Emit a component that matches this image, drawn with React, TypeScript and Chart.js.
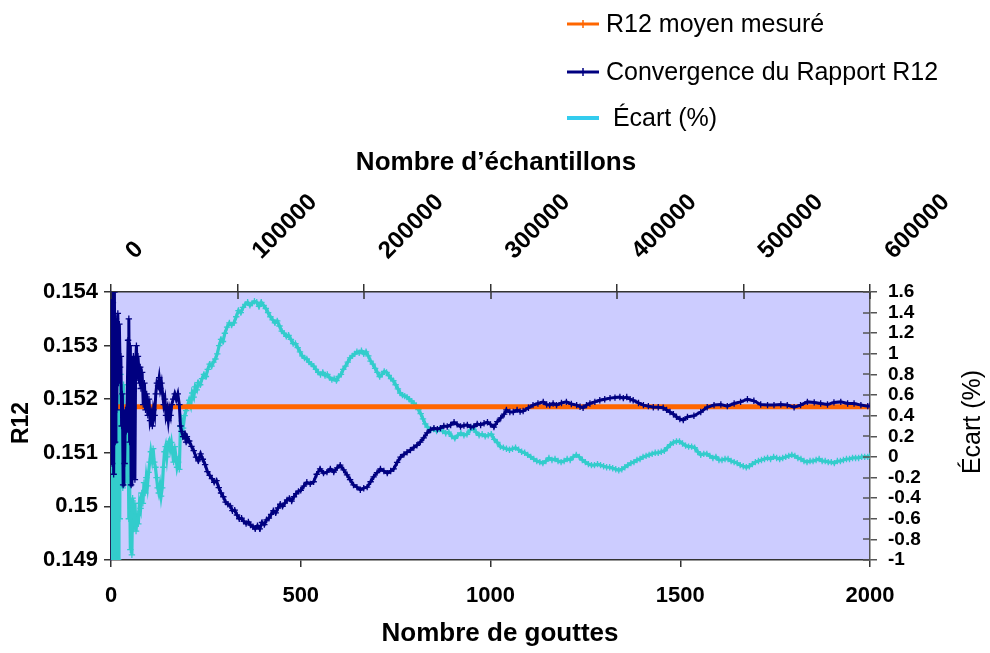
import React, { useEffect, useRef } from "react";
import { Chart, registerables } from "chart.js";

Chart.register(...registerables);

const FONT = "'Liberation Sans', Arial, Helvetica, sans-serif";

// Titles and legend labels
const titleTop = "Nombre d\u2019échantillons";
const titleBottom = "Nombre de gouttes";
const titleLeft = "R12";
const titleRight = "Écart (%)";
const legendLabels = ["R12 moyen mesuré", "Convergence du Rapport R12", " Écart (%)"];
const legendColors = ["#ff6600", "#000080", "#33ccee"];

// Axis ranges
const dropRange = [0, 2000];
const sampleRange = [0, 600000];
const r12Range = [0.149, 0.154];
const ecartRange = [-1, 1.6];

// Mean measured R12 (orange)
const meanDrops = [0, 2000];
const meanR12 = [0.15186, 0.15186];

// Convergence du Rapport R12 (navy)
const convDrops = [
  1, 3, 5, 7, 9, 11, 13, 15, 18, 20,
  22, 24, 26, 28, 30, 32, 34, 36, 38, 40,
  42, 45, 47, 49, 51, 53, 55, 57, 59, 61,
  63, 65, 67, 69, 71, 73, 75, 77, 79, 82,
  85, 88, 91, 94, 97, 100, 103, 106, 109, 112,
  115, 118, 121, 124, 127, 130, 133, 136, 139, 142,
  145, 148, 151, 154, 157, 160, 164, 168, 172, 176,
  180, 183, 186, 190, 194, 198,
  200, 206, 212, 218, 224, 230, 236, 242, 248, 254,
  260, 266, 272, 278, 284, 290, 296, 302, 308, 314,
  320, 326, 332, 338, 344, 350, 356, 362, 368, 374,
  380, 386, 392, 398, 404, 410, 416, 422, 428, 434,
  440, 446, 452, 458, 464, 470, 476, 482, 488, 494,
  500, 508, 516, 525, 534, 542, 551, 560, 569, 578,
  587, 596, 604, 613, 622, 630, 639, 648, 657, 666,
  675, 684, 692, 701, 710, 719, 728, 737, 745, 754,
  763, 772, 780, 789, 798, 806, 815, 824, 833, 842,
  851, 860, 868, 877, 886, 895, 904, 912, 921, 930,
  939, 948, 956, 965, 974, 983, 992, 1000, 1009, 1018,
  1027, 1036, 1042, 1051, 1060, 1070, 1078, 1086, 1100, 1112,
  1125, 1139, 1148, 1156, 1165, 1174, 1187, 1200, 1213, 1227,
  1236, 1244, 1253, 1262, 1275, 1288, 1301, 1315, 1328, 1341,
  1350, 1359, 1368, 1376, 1390, 1403, 1416, 1429, 1442, 1455,
  1464, 1473, 1482, 1490, 1499, 1508, 1519, 1536, 1554, 1571,
  1589, 1607, 1624, 1642, 1659, 1677, 1694, 1712, 1730, 1747,
  1765, 1782, 1800, 1817, 1835, 1853, 1870, 1888, 1905, 1923,
  1941, 1958, 1976, 1994, 2000,
];
const convR12 = [
  0.1560, 0.1508, 0.1538, 0.1506, 0.1540, 0.1512, 0.1535, 0.1518, 0.1536, 0.1523,
  0.1534, 0.1526, 0.1528, 0.1515, 0.1521, 0.1504, 0.1516, 0.1508, 0.1518, 0.1514,
  0.1517, 0.1531, 0.1535, 0.1512, 0.1530, 0.1504, 0.1527, 0.1516, 0.1528, 0.1522,
  0.1505, 0.1527, 0.1530, 0.1524, 0.1528, 0.1526, 0.1523, 0.1526, 0.1522, 0.1525,
  0.1519, 0.1523, 0.1518, 0.1521, 0.1517, 0.1520, 0.1516, 0.1517, 0.1515, 0.1518,
  0.1517, 0.1521, 0.1523, 0.15225, 0.1524, 0.1522, 0.1523, 0.1521, 0.1519, 0.1520,
  0.1517, 0.1518, 0.1516, 0.1518, 0.1517, 0.1519, 0.1520, 0.1521, 0.1520, 0.1521,
  0.1519, 0.1515, 0.1514, 0.1513, 0.15135, 0.1512,
  0.15130, 0.15122, 0.15112, 0.15104, 0.15092, 0.15085, 0.15098, 0.15088, 0.15078, 0.15065,
  0.15058, 0.15052, 0.15045, 0.15048, 0.15035, 0.15025, 0.15018, 0.15008, 0.15004, 0.15001,
  0.14992, 0.14993, 0.14984, 0.14977, 0.14978, 0.14972, 0.14968, 0.14971, 0.14965, 0.14962,
  0.14958, 0.14964, 0.14958, 0.14970, 0.14966, 0.14975, 0.14978, 0.14985, 0.14992, 0.14988,
  0.14997, 0.15004, 0.15000, 0.15006, 0.15012, 0.15015, 0.15010, 0.15018, 0.15024, 0.15028,
  0.15030, 0.15038, 0.15045, 0.15042, 0.15046, 0.15060, 0.15070, 0.15062, 0.15064, 0.15070,
  0.15064, 0.15072, 0.15077, 0.15068, 0.15059, 0.15050, 0.15040, 0.15036, 0.15031, 0.15034,
  0.15036, 0.15046, 0.15055, 0.15063, 0.15070, 0.15066, 0.15062, 0.15066, 0.15070, 0.15082,
  0.15092, 0.15097, 0.15101, 0.15105, 0.15110, 0.15114, 0.15120, 0.15128, 0.15137, 0.15143,
  0.15146, 0.15144, 0.15146, 0.15150, 0.15149, 0.15152, 0.15157, 0.15153, 0.15149, 0.15151,
  0.15152, 0.15148, 0.15149, 0.15154, 0.15152, 0.15155, 0.15157, 0.15153, 0.15148, 0.15158,
  0.15165, 0.15172, 0.15180, 0.15176, 0.15176, 0.15180, 0.15177, 0.15178, 0.15184, 0.15189,
  0.15192, 0.15195, 0.15190, 0.15189, 0.15192, 0.15189, 0.15193, 0.15195, 0.15191, 0.15189,
  0.15186, 0.15184, 0.15189, 0.15192, 0.15195, 0.15198, 0.15200, 0.15202, 0.15203, 0.15204,
  0.15202, 0.15204, 0.15200, 0.15198, 0.15193, 0.15189, 0.15187, 0.15185, 0.15185, 0.15184,
  0.15180, 0.15176, 0.15172, 0.15167, 0.15163, 0.15161, 0.15167, 0.15169, 0.15176, 0.15185,
  0.15189, 0.15190, 0.15187, 0.15192, 0.15195, 0.15200, 0.15197, 0.15190, 0.15189, 0.15189,
  0.15190, 0.15189, 0.15185, 0.15189, 0.15195, 0.15194, 0.15192, 0.15190, 0.15194, 0.15195,
  0.15192, 0.15192, 0.15189, 0.15187, 0.15188,
];

// Écart (%) (turquoise, right axis)
const ecartDrops = [
  1, 3, 5, 7, 9, 11, 13, 15, 17, 19,
  21, 23, 25, 27, 29, 31, 33, 35, 37, 39,
  41, 43, 45, 47, 49, 51, 53, 55, 57, 60,
  63, 66, 69, 72, 75, 78, 81, 84, 87, 90,
  93, 96, 99, 102, 105, 108, 111, 114, 117, 120,
  123, 126, 129, 132, 135, 138, 141, 144, 147, 150,
  153, 156, 159, 162, 165, 168, 171, 174, 177, 180,
  183, 186, 190, 194, 198, 202, 206, 210, 214, 218,
  222, 226, 230, 235, 240, 245, 250, 255, 260, 265,
  270, 275, 280, 285, 290, 295, 300, 306, 312, 318,
  324, 330, 336, 342, 348, 354, 360, 366, 372, 378,
  384, 390, 396, 402, 408, 414, 420, 426, 432, 438,
  444, 450, 456, 462, 468, 474, 480, 486, 492, 498,
  504, 510, 516, 522, 528, 534, 540, 546, 552, 558,
  564, 570, 576, 582, 588, 594, 600, 606, 612, 618,
  624, 630, 636, 642, 648, 654, 660, 666, 672, 678,
  684, 690, 696, 702, 708, 714, 720, 726, 732, 738,
  744, 750, 756, 762, 768, 774, 780, 786, 792, 798,
  804, 810, 816, 822, 828, 834, 842, 850, 858, 866,
  874, 882, 890, 898, 906, 914, 922, 930, 938, 946,
  954, 962, 970, 978, 986, 994, 1002, 1010, 1018, 1026,
  1034, 1042, 1050, 1058, 1066, 1074, 1082, 1090, 1098, 1106,
  1114, 1122, 1130, 1138, 1146, 1154, 1162, 1170, 1178, 1186,
  1194, 1202, 1210, 1218, 1226, 1234, 1242, 1250, 1258, 1266,
  1274, 1282, 1290, 1298, 1306, 1314, 1322, 1330, 1338, 1346,
  1354, 1362, 1370, 1378, 1386, 1394, 1402, 1410, 1418, 1426,
  1434, 1442, 1450, 1458, 1466, 1474, 1482, 1490, 1498, 1506,
  1514, 1522, 1530, 1538, 1546, 1554, 1562, 1570, 1578, 1586,
  1594, 1602, 1610, 1618, 1626, 1634, 1642, 1650, 1658, 1666,
  1674, 1682, 1690, 1698, 1706, 1714, 1722, 1730, 1738, 1746,
  1754, 1762, 1770, 1778, 1786, 1794, 1802, 1810, 1818, 1826,
  1834, 1842, 1850, 1858, 1866, 1874, 1882, 1890, 1898, 1906,
  1914, 1922, 1930, 1938, 1946, 1954, 1962, 1970, 1978, 1986,
  1994, 2000,
];
const ecartPct = [
  1.75, -1.1, 1.7, -1.1, 1.2, -1.05, 0.8, -0.95, 0.6, -1.0,
  0.5, -0.6, 0.8, -0.2, 0.4, -0.3, 0.7, -0.1, 0.2, -0.25,
  0.3, -0.1, 0.25, -0.6, -0.2, -0.9, -0.5, -0.95, -0.4, -0.7,
  -0.45, -0.72, -0.55, -0.65, -0.45, -0.5, -0.35, -0.45, -0.25, -0.35,
  -0.2, -0.28, -0.15, -0.05, 0.05, -0.02, 0.08, -0.05, -0.1, -0.2,
  -0.3, -0.35, -0.28, -0.38, -0.3, -0.1, 0.05, 0.1, 0.0, 0.12,
  0.15, 0.08, 0.14, 0.05, -0.05, 0.1, 0.0, -0.1, -0.05, -0.12,
  0.3, 0.35, 0.28, 0.4, 0.45, 0.5, 0.55, 0.5, 0.62, 0.58,
  0.68, 0.65, 0.72, 0.7, 0.76, 0.8, 0.78, 0.85, 0.9, 0.88,
  0.92, 0.95, 1.0, 1.08, 1.14, 1.12, 1.2, 1.26, 1.3, 1.28,
  1.3, 1.36, 1.42, 1.4, 1.45, 1.48, 1.5, 1.47, 1.49, 1.51,
  1.5, 1.46, 1.5, 1.47, 1.44, 1.4, 1.36, 1.33, 1.3, 1.32,
  1.27, 1.22, 1.2, 1.17, 1.18, 1.14, 1.1, 1.1, 1.06, 1.02,
  0.98, 0.96, 0.95, 0.92, 0.9, 0.88, 0.85, 0.82, 0.8, 0.82,
  0.79, 0.8, 0.77, 0.75, 0.76, 0.74, 0.78, 0.8, 0.85, 0.88,
  0.92, 0.96, 0.98, 1.0, 1.02, 1.01, 1.03, 1.0, 1.02, 0.98,
  0.93, 0.9, 0.86, 0.82, 0.78, 0.8, 0.83, 0.82, 0.79, 0.76,
  0.74, 0.7, 0.66, 0.62, 0.6, 0.59, 0.58, 0.56, 0.54, 0.52,
  0.5, 0.46, 0.42, 0.37, 0.32, 0.29, 0.26, 0.27, 0.25, 0.27,
  0.25, 0.23, 0.24, 0.2, 0.18, 0.21, 0.23, 0.21, 0.22, 0.26,
  0.28, 0.24, 0.21, 0.22, 0.2, 0.21, 0.22, 0.17, 0.14, 0.1,
  0.09, 0.08, 0.07, 0.08, 0.09, 0.07, 0.05, 0.04, 0.02, 0.0,
  -0.02, -0.04, -0.05, -0.06, -0.04, -0.01, -0.03, -0.02, -0.04, -0.05,
  -0.04, -0.02, -0.03, 0.0, 0.02, 0.0, -0.03, -0.05, -0.07, -0.08,
  -0.08, -0.07, -0.08, -0.09, -0.1, -0.1, -0.11, -0.12, -0.13, -0.12,
  -0.1, -0.08, -0.06, -0.05, -0.03, -0.02, 0.0, 0.01, 0.02, 0.03,
  0.04, 0.04, 0.05, 0.06, 0.09, 0.12, 0.14, 0.15, 0.15, 0.13,
  0.11, 0.1, 0.1, 0.09, 0.05, 0.02, 0.03, 0.03, 0.01, -0.01,
  0.0, -0.03, -0.03, -0.02, -0.02, -0.04, -0.05, -0.06, -0.08, -0.09,
  -0.1, -0.09, -0.07, -0.05, -0.04, -0.03, -0.02, -0.01, -0.02, 0.0,
  -0.01, -0.02, -0.01, 0.0, 0.01, 0.02, 0.01, -0.01, -0.02, -0.04,
  -0.05, -0.04, -0.04, -0.03, -0.02, -0.04, -0.04, -0.05, -0.05, -0.06,
  -0.04, -0.04, -0.03, -0.02, -0.02, -0.01, -0.01, -0.01, 0.0, 0.0,
  0.0, 0.01,
];

const pairs = (xs: number[], ys: number[]) => xs.map((x, i) => ({ x, y: ys[i] }));

export default function App() {
  const ref = useRef<HTMLCanvasElement>(null);

  useEffect(() => {
    const canvas = ref.current;
    if (!canvas) return;

    const bgPlugin = {
      id: "plotBg",
      beforeDraw(chart: any) {
        const { ctx, chartArea: a } = chart;
        ctx.save();
        ctx.fillStyle = "#ccccff";
        ctx.fillRect(a.left, a.top, a.right - a.left, a.bottom - a.top);
        ctx.restore();
      },
    };

    const textPlugin = {
      id: "texts",
      afterDraw(chart: any) {
        const ctx = chart.ctx as CanvasRenderingContext2D;
        const area = chart.chartArea;
        ctx.save();

        // inner halves of the crossing tick marks (top and right axes)
        const top = chart.scales.x2;
        const right = chart.scales.y2;
        ctx.lineWidth = 1.5;
        ctx.strokeStyle = "#333";
        top.ticks.forEach((t: any) => {
          const px = Math.round(top.getPixelForValue(t.value));
          ctx.beginPath();
          ctx.moveTo(px, area.top);
          ctx.lineTo(px, area.top + 7);
          ctx.stroke();
        });
        ctx.strokeStyle = "#555";
        right.ticks.forEach((t: any) => {
          const py = Math.round(right.getPixelForValue(t.value));
          ctx.beginPath();
          ctx.moveTo(area.right - 7, py);
          ctx.lineTo(area.right, py);
          ctx.stroke();
        });

        ctx.fillStyle = "#000";

        // rotated top-axis tick labels (samples), placed via the x2 scale
        ctx.font = `bold 24px ${FONT}`;
        ctx.textAlign = "left";
        ctx.textBaseline = "middle";
        top.ticks.forEach((t: any) => {
          const px = top.getPixelForValue(t.value);
          ctx.save();
          ctx.translate(px + 19, area.top - 37);
          ctx.rotate(-Math.PI / 4);
          ctx.fillText(String(t.value), 0, 0);
          ctx.restore();
        });

        ctx.textAlign = "center";
        ctx.font = `bold 26px ${FONT}`;
        ctx.fillText(titleTop, 496, 163);
        ctx.fillText(titleBottom, 500, 634);

        ctx.save();
        ctx.translate(22, 423);
        ctx.rotate(-Math.PI / 2);
        ctx.font = `bold 23px ${FONT}`;
        ctx.fillText(titleLeft, 0, 0);
        ctx.restore();

        ctx.save();
        ctx.translate(973, 422);
        ctx.rotate(-Math.PI / 2);
        ctx.font = `25px ${FONT}`;
        ctx.fillText(titleRight, 0, 0);
        ctx.restore();

        // legend
        const ys = [24, 72, 118];
        const widths = [3, 3, 4];
        ctx.textAlign = "left";
        ctx.font = `25px ${FONT}`;
        legendLabels.forEach((label, i) => {
          ctx.strokeStyle = legendColors[i];
          ctx.lineWidth = widths[i];
          ctx.beginPath();
          ctx.moveTo(567, ys[i]);
          ctx.lineTo(599, ys[i]);
          ctx.stroke();
          if (i < 2) {
            ctx.lineWidth = 1.5;
            ctx.beginPath();
            ctx.moveTo(583, ys[i] - 4);
            ctx.lineTo(583, ys[i] + 4);
            ctx.stroke();
          }
          ctx.fillStyle = "#000";
          ctx.fillText(label, 606, ys[i] + 1);
        });
        ctx.restore();
      },
    };

    const tickFont = { family: FONT, size: 22, weight: "bold" as const };
    const axisColor = "#333";

    const chart = new Chart(canvas, {
      type: "line",
      data: {
        datasets: [
          {
            label: legendLabels[1],
            data: pairs(convDrops, convR12),
            xAxisID: "x",
            yAxisID: "y",
            borderColor: "#000080",
            backgroundColor: "#000080",
            borderWidth: 3,
            pointStyle: "cross",
            pointRadius: 3.2,
            pointBorderWidth: 1.3,
            pointBorderColor: "#000080",
            tension: 0,
          },
          {
            label: legendLabels[0],
            data: pairs(meanDrops, meanR12),
            xAxisID: "x",
            yAxisID: "y",
            borderColor: "#ff6600",
            backgroundColor: "#ff6600",
            borderWidth: 5,
            pointRadius: 0,
          },
          {
            label: titleRight,
            data: pairs(ecartDrops, ecartPct),
            xAxisID: "x",
            yAxisID: "y2",
            borderColor: "#33cccc",
            backgroundColor: "#33cccc",
            borderWidth: 3.2,
            pointStyle: "cross",
            pointRadius: 3.2,
            pointBorderWidth: 1.3,
            pointBorderColor: "#33cccc",
            tension: 0,
          },
        ],
      },
      options: {
        animation: false,
        responsive: false,
        maintainAspectRatio: false,
        layout: { padding: 0 },
        plugins: { legend: { display: false }, tooltip: { enabled: false } },
        scales: {
          x: {
            type: "linear",
            position: "bottom",
            min: dropRange[0],
            max: dropRange[1],
            ticks: {
              stepSize: 500,
              font: tickFont,
              color: "#000",
              padding: 16,
              maxRotation: 0,
              autoSkip: false,
              callback: (v: any) => String(v),
            },
            grid: { drawOnChartArea: false, tickLength: 7, color: axisColor, lineWidth: 1.5 },
            border: { color: axisColor, width: 1.5 },
            afterFit: (s: any) => {
              s.height = 93;
            },
          },
          x2: {
            type: "linear",
            position: "top",
            min: sampleRange[0],
            max: sampleRange[1],
            ticks: {
              display: false,
              stepSize: 100000,
              autoSkip: false,
            },
            grid: { drawOnChartArea: false, tickLength: 8, color: axisColor, lineWidth: 1.5 },
            border: { color: axisColor, width: 1.5 },
            afterFit: (s: any) => {
              s.height = 292;
            },
          },
          y: {
            type: "linear",
            position: "left",
            min: r12Range[0],
            max: r12Range[1],
            ticks: {
              stepSize: 0.001,
              font: tickFont,
              color: "#000",
              padding: 6,
              autoSkip: false,
              callback: (v: any) => String(Number(Number(v).toFixed(3))),
            },
            grid: { drawOnChartArea: false, tickLength: 7, color: axisColor, lineWidth: 1.5 },
            border: { color: "#222255", width: 1.5 },
            afterFit: (s: any) => {
              s.width = 111;
            },
          },
          y2: {
            type: "linear",
            position: "right",
            min: ecartRange[0],
            max: ecartRange[1],
            ticks: {
              stepSize: 0.2,
              font: { family: FONT, size: 19, weight: "bold" as const },
              color: "#000",
              padding: 11,
              autoSkip: false,
              callback: (v: any) => String(Number(Number(v).toFixed(1))),
            },
            grid: { drawOnChartArea: false, tickLength: 7, color: "#555", lineWidth: 1.5 },
            border: { color: "#555", width: 1.5 },
            afterFit: (s: any) => {
              s.width = 120;
            },
          },
        },
      } as any,
      plugins: [bgPlugin, textPlugin],
    });

    return () => chart.destroy();
  }, []);

  return (
    <div
      style={{
        position: "fixed",
        left: 0,
        top: 0,
        width: 990,
        height: 653,
        background: "#fff",
      }}
    >
      <canvas ref={ref} width={990} height={653} style={{ display: "block", width: 990, height: 653 }} />
    </div>
  );
}
